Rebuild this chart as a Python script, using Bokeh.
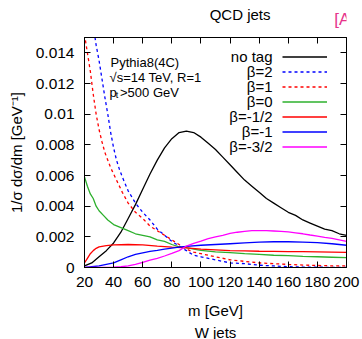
from bokeh.plotting import figure
from bokeh.layouts import column
from bokeh.models import Range1d, FixedTicker, LinearAxis, Label, Legend, LegendItem, Title
from bokeh.core.properties import value
from bokeh.embed import file_html
from bokeh.resources import INLINE

FONT = "Liberation Sans"

# jet mass grid [GeV] and normalised distributions 1/sigma dsigma/dm [GeV^-1]
m_notag = [20, 25, 30, 35, 40, 45, 50, 55, 60, 65, 70, 75, 80, 85, 90, 95, 100,
           105, 110, 115, 120, 125, 130, 135, 140, 145, 150, 155, 160, 165,
           170, 175, 180, 185, 190, 195, 200]
notag = [0.0001, 0.0003, 0.0007, 0.0011, 0.0016, 0.0023, 0.0032, 0.0041, 0.0051,
         0.0061, 0.0070, 0.0078, 0.0084, 0.0088, 0.0089, 0.0088, 0.0085, 0.0081,
         0.0077, 0.0072, 0.0067, 0.0062, 0.0057, 0.0053, 0.0049, 0.0045, 0.0042,
         0.0039, 0.0036, 0.0034, 0.0031, 0.0029, 0.0027, 0.0025, 0.0024, 0.0022,
         0.0021]

m_b2 = [26, 28, 30, 32, 34, 36, 38, 40, 42, 44, 46, 50, 55, 60, 65, 70, 75, 80,
        85, 90, 95, 100, 110, 120, 130, 140, 150, 160, 170, 180, 190, 200]
beta_2 = [0.0158, 0.0145, 0.0135, 0.0123, 0.0111, 0.0100, 0.0088, 0.0078, 0.0070,
          0.0064, 0.0059, 0.0050, 0.0042, 0.0036, 0.0031, 0.0025, 0.0021, 0.0017,
          0.0014, 0.0011, 0.0008, 0.0007, 0.0005, 0.0003, 0.00025, 0.00015,
          0.0001, 0.00005, 0.00003, 0.00002, 0.00001, 0.00001]

m_b1 = [20, 22, 24, 26, 28, 30, 32, 34, 38, 42, 46, 50, 55, 60, 65, 70, 75, 80,
        85, 90, 95, 100, 110, 120, 130, 140, 150, 160, 170, 180, 190, 200]
beta_1 = [0.0152, 0.0140, 0.0128, 0.0113, 0.0100, 0.0090, 0.0082, 0.0075, 0.0065,
          0.0057, 0.0049, 0.0042, 0.0036, 0.0032, 0.0027, 0.0024, 0.0021, 0.0018,
          0.0015, 0.0012, 0.0010, 0.0009, 0.0007, 0.0005, 0.0004, 0.0003,
          0.00025, 0.0002, 0.00016, 0.00013, 0.00011, 0.0001]

m_b0 = [20, 22, 24, 26, 28, 30, 33, 36, 40, 45, 50, 55, 60, 65, 70, 75, 80, 85,
        90, 95, 100, 110, 120, 130, 140, 150, 160, 170, 180, 190, 200]
beta_0 = [0.0059, 0.0053, 0.0048, 0.0045, 0.0040, 0.0037, 0.0034, 0.0031, 0.0028,
          0.0026, 0.0024, 0.0022, 0.0021, 0.0020, 0.0018, 0.0017, 0.0015, 0.00135,
          0.0013, 0.0012, 0.00112, 0.00102, 0.00097, 0.0009, 0.00086, 0.0008,
          0.00077, 0.00073, 0.0007, 0.00067, 0.00064]

m_bm12 = [20, 22, 24, 26, 28, 30, 35, 40, 50, 60, 70, 80, 90, 100, 110, 120, 130,
          140, 150, 160, 170, 180, 190, 200]
beta_m12 = [0.0003, 0.0006, 0.0009, 0.0011, 0.00125, 0.00135, 0.00143, 0.00148,
            0.0015, 0.00148, 0.0014, 0.00133, 0.00128, 0.0012, 0.00115, 0.0011,
            0.00108, 0.00106, 0.00105, 0.00104, 0.00103, 0.00102, 0.001, 0.00098]

m_bm1 = [20, 25, 30, 35, 40, 45, 50, 55, 60, 65, 70, 75, 80, 85, 90, 100, 110,
         120, 130, 140, 150, 160, 170, 180, 190, 200]
beta_m1 = [0.0, 0.00005, 0.0001, 0.0002, 0.0003, 0.0005, 0.0007, 0.00085, 0.00095,
           0.00105, 0.00112, 0.0012, 0.00127, 0.00133, 0.00138, 0.00145, 0.0015,
           0.00155, 0.0016, 0.00165, 0.00168, 0.00168, 0.00166, 0.00162, 0.00155,
           0.00145]

m_bm32 = [20, 30, 40, 45, 50, 55, 60, 65, 70, 75, 80, 85, 90, 95, 100, 105, 110,
          115, 120, 125, 130, 135, 140, 145, 150, 155, 160, 165, 170, 175, 180,
          185, 190, 195, 200]
beta_m32 = [0.0, 0.0, 0.00002, 0.00005, 0.0001, 0.0002, 0.00033, 0.00048, 0.0006,
            0.00075, 0.00092, 0.0011, 0.0014, 0.00158, 0.00172, 0.00188, 0.002,
            0.0021, 0.00222, 0.0023, 0.00236, 0.0024, 0.0024, 0.0024, 0.00238,
            0.00235, 0.00232, 0.00226, 0.0022, 0.00212, 0.00205, 0.00196, 0.0019,
            0.0018, 0.0017]

series_labels = ["no tag", "β=2", "β=1", "β=0", "β=-1/2", "β=-1", "β=-3/2"]
series_colors = ["#000000", "#0000ff", "#ff0000", "#2db02d", "#ff0000", "#0000ff", "#ff00ff"]
series_dash = ["solid", "3 3", "3 3", "solid", "solid", "solid", "solid"]

x_ticks = [20, 40, 60, 80, 100, 120, 140, 160, 180, 200]
y_ticks = [0, 0.002, 0.004, 0.006, 0.008, 0.01, 0.012, 0.014]
y_tick_labels = ["0", "0.002", "0.004", "0.006", "0.008", "0.01", "0.012", "0.014"]

W, HEAD = 362, 28

# header strip: a bare canvas in pixel units holding the heading texts
head = figure(width=W, height=HEAD, x_range=Range1d(0, W), y_range=Range1d(0, HEAD),
              min_border=0, x_axis_location=None, y_axis_location=None,
              output_backend="svg", toolbar_location=None, title=None)
head.grid.visible = False
head.outline_line_color = None
head.add_layout(Label(x=215, y=HEAD - 14, text="QCD jets", text_align="center",
                      text_baseline="middle", text_font=FONT,
                      text_font_size="15px", text_color="black"))
head.add_layout(Label(x=345, y=HEAD - 18.5, text="[A", text_align="left",
                      text_baseline="alphabetic", text_font=FONT,
                      text_font_size="17px", text_color="#e6338c"))

p = figure(frame_width=262, frame_height=230,
           min_border_left=84, min_border_right=16,
           min_border_top=37 - HEAD, min_border_bottom=72,
           x_range=Range1d(20, 200), y_range=Range1d(0, 0.015),
           output_backend="svg", toolbar_location=None, title=None)
p.grid.visible = False
p.outline_line_color = "black"
p.outline_line_width = 1
p.background_fill_color = "white"
p.border_fill_color = "white"

xs = [m_notag, m_b2, m_b1, m_b0, m_bm12, m_bm1, m_bm32]
ys = [notag, beta_2, beta_1, beta_0, beta_m12, beta_m1, beta_m32]
renderers = []
for x, y, c, d in zip(xs, ys, series_colors, series_dash):
    r = p.line(x, y, line_color=c, line_width=1.3, line_dash=d)
    renderers.append(r)


def style_axis(ax, show_labels):
    ax.major_tick_in = 6
    ax.major_tick_out = 0
    ax.minor_tick_line_color = None
    ax.axis_line_color = "black"
    ax.major_tick_line_color = "black"
    ax.major_label_text_font = FONT
    ax.axis_label_text_font = FONT
    ax.axis_label_text_font_style = "normal"
    ax.axis_label_text_font_size = "15px"
    ax.axis_label_text_color = "black"
    if show_labels:
        ax.major_label_text_font_size = "15.5px"
        ax.major_label_text_color = "black"
    else:
        ax.major_label_text_font_size = "2px"
        ax.major_label_text_color = None
        ax.major_label_standoff = 0


xax = p.xaxis[0]
xax.ticker = FixedTicker(ticks=x_ticks)
style_axis(xax, True)
xax.major_label_standoff = 9
xax.axis_label = "m [GeV]"
xax.axis_label_standoff = 12

yax = p.yaxis[0]
yax.ticker = FixedTicker(ticks=y_ticks)
yax.major_label_overrides = dict(zip(y_ticks, y_tick_labels))
style_axis(yax, True)
yax.major_label_standoff = 10
yax.axis_label = "1/σ dσ/dm [GeV⁻¹]"
yax.axis_label_standoff = 8

top_ax = LinearAxis(ticker=FixedTicker(ticks=x_ticks))
style_axis(top_ax, False)
p.add_layout(top_ax, "above")
right_ax = LinearAxis(ticker=FixedTicker(ticks=y_ticks))
style_axis(right_ax, False)
p.add_layout(right_ax, "right")

p.add_layout(Title(text="W jets", align="center", text_font=FONT,
                   text_font_size="15px", text_font_style="normal",
                   text_color="black", standoff=0), "below")

# legend: sample lines drawn by a glyph-only legend, texts right-aligned to their left
legend = Legend(items=[LegendItem(label=value(" "), renderers=[r]) for r in renderers],
                location=(198, 113), glyph_width=45, glyph_height=15,
                label_height=15, label_width=1, label_standoff=0, spacing=0,
                padding=0, margin=0, border_line_color=None,
                background_fill_alpha=0, label_text_font_size="2px",
                label_text_color=None)
p.add_layout(legend, "center")

legend_y = [0.01376, 0.01278, 0.0118, 0.01083, 0.00985, 0.00887, 0.00789]
for txt, yy in zip(series_labels, legend_y):
    p.add_layout(Label(x=149.2, y=yy, text=txt, text_align="right",
                       text_baseline="middle", text_font=FONT,
                       text_font_size="15px", text_color="black"))

# generator / cut information
info_kw = dict(text_baseline="middle", text_font=FONT, text_font_size="13px",
               text_color="black")
p.add_layout(Label(x=37.9, y=0.0134, text="Pythia8(4C)", **info_kw))
p.add_layout(Label(x=37.2, y=0.01242, text="√s=14 TeV, R=1", **info_kw))
p.add_layout(Label(x=37.2, y=0.01144, text="p", **info_kw))
p.add_layout(Label(x=41.5, y=0.01124, text="t", text_baseline="middle",
                   text_font=FONT, text_font_size="9px", text_color="black"))
p.add_layout(Label(x=44.4, y=0.01144, text=">500 GeV", **info_kw))

page = column(head, p, spacing=0)
open("out.html", "w").write(file_html(page, INLINE))
